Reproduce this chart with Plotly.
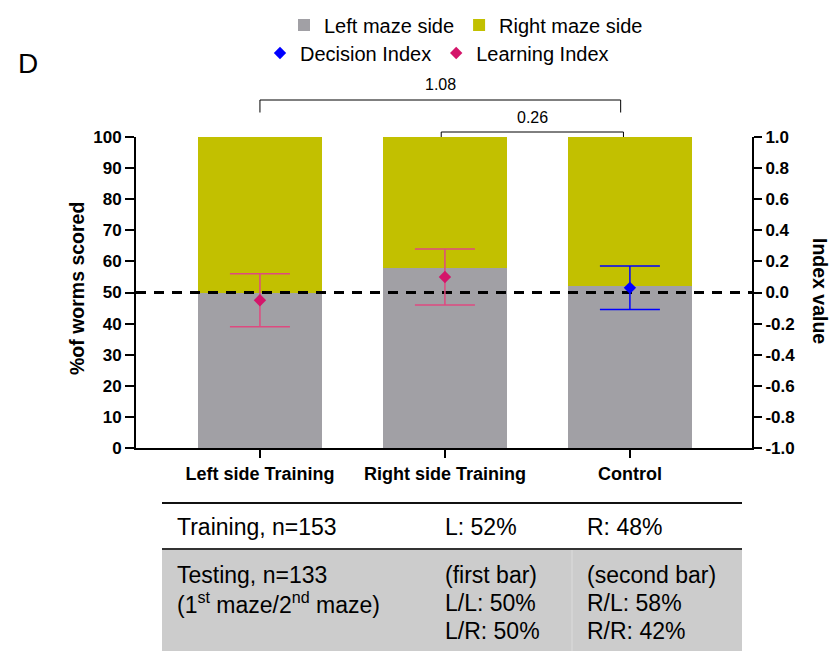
import plotly.graph_objects as go

# ---------------- data ----------------
categories = ["Left side Training", "Right side Training", "Control"]
left_side_pct = [50, 58, 52]
right_side_pct = [50, 42, 48]
learning_index = [-0.05, 0.10, None]
learning_err = [0.17, 0.18, None]
decision_index = [None, None, 0.03]
decision_err = [None, None, 0.14]
chance_level_pct = 50

pct_ticks = [0, 10, 20, 30, 40, 50, 60, 70, 80, 90, 100]
index_ticks = [-1.0, -0.8, -0.6, -0.4, -0.2, 0.0, 0.2, 0.4, 0.6, 0.8, 1.0]
index_tick_labels = ["-1.0", "-0.8", "-0.6", "-0.4", "-0.2", "0.0", "0.2", "0.4", "0.6", "0.8", "1.0"]

# comparisons: (label, from category index, to category index)
brackets = [("1.08", 0, 2), ("0.26", 1, 2)]

table_training = ["Training, n=153", "L: 52%", "R: 48%"]
table_testing = [
    ["Testing, n=133", "(1<sup>st</sup> maze/2<sup>nd</sup> maze)"],
    ["(first bar)", "L/L: 50%", "L/R: 50%"],
    ["(second bar)", "R/L: 58%", "R/R: 42%"],
]

# ---------------- style ----------------
FONT = "Liberation Sans, Arial, sans-serif"
GREY = "#A1A0A5"
YELLOW = "#C2C000"
PINK = "#D4156A"
PINK_ERR = "#DE4A80"
BLUE = "#0000FF"

W, H = 838, 651
L, R, T, B = 136, 86, 137, 203
PW, PH = W - L - R, H - T - B
X_RANGE = [-0.67, 2.66]


def px2x(px):
    return (px - L) / PW


def px2y(py):
    return (H - B - py) / PH


x_pos = list(range(len(categories)))

fig = go.Figure()

fig.add_trace(go.Bar(
    x=x_pos, y=left_side_pct, name="Left maze side",
    marker=dict(color=GREY, line=dict(width=0)), width=0.67, legend="legend",
))
fig.add_trace(go.Bar(
    x=x_pos, y=right_side_pct, name="Right maze side",
    marker=dict(color=YELLOW, line=dict(width=0)), width=0.67, legend="legend",
))
# dashed chance line (above bars, below index markers)
fig.add_trace(go.Scatter(
    x=X_RANGE, y=[chance_level_pct, chance_level_pct], mode="lines",
    line=dict(color="black", width=3, dash="10px,8px"), showlegend=False, hoverinfo="skip",
    cliponaxis=False,
))
fig.add_trace(go.Scatter(
    x=x_pos, y=decision_index, yaxis="y2", mode="markers", name="Decision Index",
    marker=dict(symbol="diamond", size=9.5, color=BLUE),
    error_y=dict(type="data", array=decision_err, color=BLUE, thickness=1.5, width=30),
    legend="legend2",
))
fig.add_trace(go.Scatter(
    x=x_pos, y=learning_index, yaxis="y2", mode="markers", name="Learning Index",
    marker=dict(symbol="diamond", size=9.5, color=PINK),
    error_y=dict(type="data", array=learning_err, color=PINK_ERR, thickness=1.5, width=30),
    legend="legend2",
))

shapes = []
# comparison brackets
bracket_geom = [
    dict(top=px2y(100), tip=px2y(112.5), lab=px2y(85), dx0=0.0, dx1=-0.05),
    dict(top=px2y(132), tip=px2y(137), lab=px2y(117), dx0=-0.02, dx1=-0.035),
]
annotations = []
for (lab, i0, i1), g in zip(brackets, bracket_geom):
    xa, xb = i0 + g["dx0"], i1 + g["dx1"]
    shapes.append(dict(type="path", xref="x", yref="paper",
                       path=f"M {xa},{g['tip']} L {xa},{g['top']} L {xb},{g['top']} L {xb},{g['tip']}",
                       line=dict(color="black", width=1)))
    annotations.append(dict(xref="x", yref="paper", x=(xa + xb) / 2, y=g["lab"], text=lab,
                            showarrow=False, font=dict(family=FONT, size=16, color="black"),
                            xanchor="center", yanchor="middle"))

# panel letter
annotations.append(dict(xref="paper", yref="paper", x=px2x(28), y=px2y(64), text="D",
                        showarrow=False, font=dict(family=FONT, size=28, color="black"),
                        xanchor="center", yanchor="middle"))
# axis titles
annotations.append(dict(xref="paper", yref="paper", x=px2x(77), y=px2y(289), text="%of worms scored",
                        textangle=-90, showarrow=False,
                        font=dict(family=FONT, size=19.5, color="black", weight="bold"),
                        xanchor="center", yanchor="middle"))
annotations.append(dict(xref="paper", yref="paper", x=px2x(820), y=px2y(291), text="Index value",
                        textangle=90, showarrow=False,
                        font=dict(family=FONT, size=19.5, color="black", weight="bold"),
                        xanchor="center", yanchor="middle"))

# ---------------- table below chart ----------------
tx0, tx1 = px2x(162), px2x(742)
shapes.append(dict(type="rect", xref="paper", yref="paper", x0=tx0, x1=tx1,
                   y0=px2y(652), y1=px2y(549), fillcolor="#CCCCCC", line=dict(width=0), layer="below"))
shapes.append(dict(type="line", xref="paper", yref="paper", x0=px2x(572), x1=px2x(572),
                   y0=px2y(652), y1=px2y(550), line=dict(color="#DCDCDC", width=1)))
shapes.append(dict(type="line", xref="paper", yref="paper", x0=tx0, x1=tx1,
                   y0=px2y(503), y1=px2y(503), line=dict(color="#111111", width=2)))
shapes.append(dict(type="line", xref="paper", yref="paper", x0=tx0, x1=tx1,
                   y0=px2y(549), y1=px2y(549), line=dict(color="#333333", width=2)))

col_x = [175, 443, 585]
row_train_y = 527
test_rows_y = [575, 603, 631]
tfont = dict(family=FONT, size=23, color="black")
for cx, txt in zip(col_x, table_training):
    annotations.append(dict(xref="paper", yref="paper", x=px2x(cx), y=px2y(row_train_y), text=txt,
                            showarrow=False, font=tfont, xanchor="left", yanchor="middle"))
for cx, lines in zip(col_x, table_testing):
    for ly, txt in zip(test_rows_y, lines):
        annotations.append(dict(xref="paper", yref="paper", x=px2x(cx), y=px2y(ly), text=txt,
                                showarrow=False, font=tfont, xanchor="left", yanchor="middle"))

tick_font = dict(family=FONT, size=17, color="black", weight="bold")
legend_font = dict(family=FONT, size=20, color="black")

fig.update_layout(
    width=W, height=H,
    margin=dict(l=L, r=R, t=T, b=B, pad=0, autoexpand=False),
    paper_bgcolor="white", plot_bgcolor="white",
    barmode="stack",
    xaxis=dict(type="linear", range=X_RANGE, tickvals=x_pos, ticktext=categories,
               showline=True, linecolor="black", linewidth=2,
               ticks="outside", ticklen=8, tickwidth=2, tickcolor="black",
               tickfont=dict(family=FONT, size=18, color="black", weight="bold"),
               showgrid=False, zeroline=False, fixedrange=True),
    yaxis=dict(range=[0, 100], tickvals=pct_ticks, showline=True, linecolor="black", linewidth=2,
               ticks="outside", ticklen=9, tickwidth=2, tickcolor="black", tickfont=tick_font,
               showgrid=False, zeroline=False),
    yaxis2=dict(range=[-1, 1], overlaying="y", side="right", anchor="x",
                tickvals=index_ticks, ticktext=index_tick_labels,
                showline=True, linecolor="black", linewidth=2,
                ticks="outside", ticklen=8, tickwidth=2, tickcolor="black", tickfont=tick_font,
                showgrid=False, zeroline=False),
    legend=dict(orientation="h", x=px2x(466), xanchor="center", y=px2y(25), yanchor="middle",
                font=legend_font, bgcolor="rgba(0,0,0,0)", traceorder="normal"),
    legend2=dict(orientation="h", x=px2x(437), xanchor="center", y=px2y(53), yanchor="middle",
                 font=legend_font, bgcolor="rgba(0,0,0,0)", traceorder="normal"),
    shapes=shapes,
    annotations=annotations,
    font=dict(family=FONT, color="black"),
)

fig.write_html("out.html", config={"displayModeBar": False},
               post_script="document.body.style.margin='0';document.body.style.overflow='hidden';")
